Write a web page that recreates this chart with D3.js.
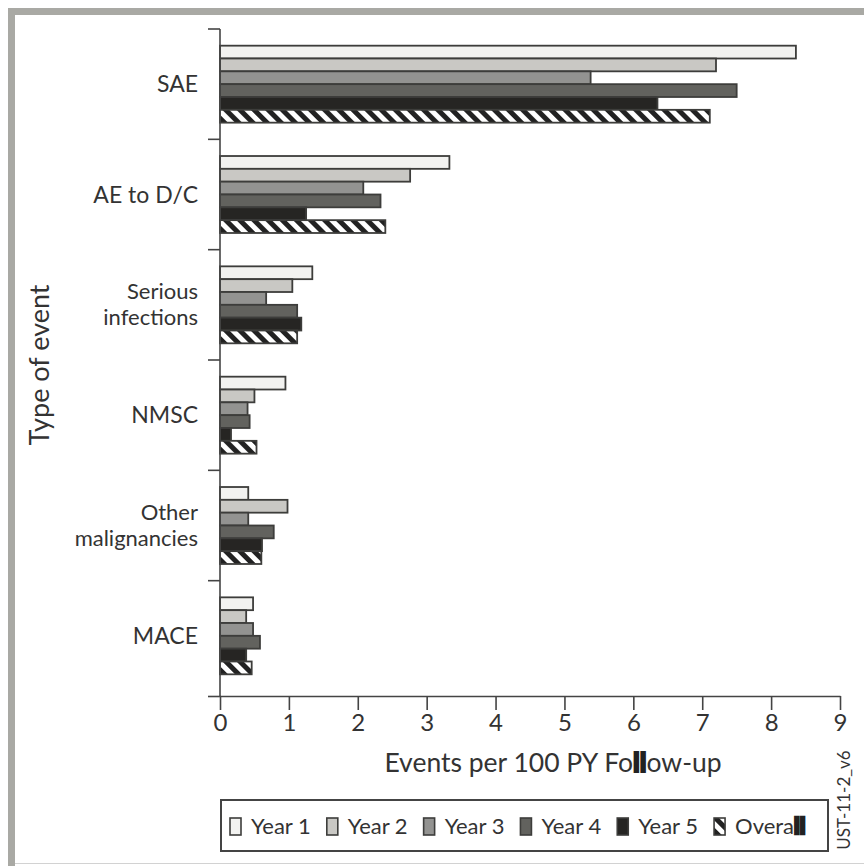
<!DOCTYPE html>
<html>
<head>
<meta charset="utf-8">
<script src="https://cdn.jsdelivr.net/npm/d3@7"></script>
<style>
body { margin: 0; background: #fff; }
text { font-family: Lato, "Open Sans", sans-serif; fill: #333; }
</style>
</head>
<body>
<div id="main"></div>
<script>
// values (events per 100 PY)
var categories = ["SAE", "AE to D/C", "Serious infections", "NMSC", "Other malignancies", "MACE"];
var category_lines = [["SAE"], ["AE to D/C"], ["Serious", "infections"], ["NMSC"], ["Other", "malignancies"], ["MACE"]];
var series_names = ["Year 1", "Year 2", "Year 3", "Year 4", "Year 5", "Overall"];
var year1 = [8.36, 3.33, 1.34, 0.95, 0.41, 0.48];
var year2 = [7.20, 2.76, 1.05, 0.50, 0.98, 0.38];
var year3 = [5.38, 2.08, 0.67, 0.40, 0.41, 0.48];
var year4 = [7.50, 2.33, 1.12, 0.43, 0.78, 0.58];
var year5 = [6.35, 1.25, 1.18, 0.16, 0.61, 0.38];
var overall = [7.11, 2.40, 1.12, 0.53, 0.60, 0.46];
var x_ticks = [0, 1, 2, 3, 4, 5, 6, 7, 8, 9];

var series_values = [year1, year2, year3, year4, year5, overall];
var fills = ["#f2f2f0", "#c9c8c4", "#939391", "#62625e", "#262523", "url(#hatch)"];
var stroke_col = "#3d3d3b";

var W = 864, H = 866;
var svg = d3.select("#main").append("svg").attr("width", W).attr("height", H);

// hatch for "Overall"
var defs = svg.append("defs");
var pat = defs.append("pattern").attr("id", "hatch")
	.attr("patternUnits", "userSpaceOnUse")
	.attr("width", 10).attr("height", 10)
	.attr("patternTransform", "rotate(-45)");
pat.append("rect").attr("width", 10).attr("height", 10).attr("fill", "#fff");
pat.append("rect").attr("width", 5).attr("height", 10).attr("fill", "#222");

// frame
svg.append("rect").attr("x", 8).attr("y", 8).attr("width", W - 8).attr("height", 7).attr("fill", "#a9a9a4");
svg.append("rect").attr("x", 8).attr("y", 8).attr("width", 7).attr("height", H - 8).attr("fill", "#a9a9a4");
svg.append("line").attr("x1", 15).attr("x2", W).attr("y1", 863.5).attr("y2", 863.5)
	.attr("stroke", "#d2d2d2").attr("stroke-width", 1);

var x = d3.scaleLinear().domain([0, 9]).range([220, 840]);
var y0 = d3.scaleBand().domain(categories).range([29, 691]);
var y1 = d3.scaleBand().domain(series_names).range([0, y0.bandwidth()]).paddingOuter(1.3);

// bars
var groups = svg.selectAll(".cat").data(categories).enter().append("g")
	.attr("class", "cat")
	.attr("transform", function (d) { return "translate(0," + y0(d) + ")"; });

groups.selectAll("rect")
	.data(function (d, i) {
		return series_names.map(function (s, j) { return {series: s, value: series_values[j][i], k: j}; });
	})
	.enter().append("rect")
	.attr("x", x(0))
	.attr("y", function (d) { return y1(d.series); })
	.attr("width", function (d) { return x(d.value) - x(0); })
	.attr("height", y1.bandwidth())
	.attr("fill", function (d) { return fills[d.k]; })
	.attr("stroke", stroke_col)
	.attr("stroke-width", 1.8);

// y axis line and boundary ticks
var axis_col = "#444";
svg.append("line").attr("x1", 220).attr("x2", 220).attr("y1", 29).attr("y2", 697)
	.attr("stroke", axis_col).attr("stroke-width", 1.6);
var bounds = categories.map(function (c) { return y0(c); });
svg.selectAll(".ytick").data(bounds).enter().append("line")
	.attr("class", "ytick")
	.attr("x1", 208).attr("x2", 220)
	.attr("y1", function (d) { return d; }).attr("y2", function (d) { return d; })
	.attr("stroke", axis_col).attr("stroke-width", 1.6);

// category labels, one text per line
category_lines.forEach(function (lines, i) {
	var c = y0(categories[i]) + y0.bandwidth() / 2;
	lines.forEach(function (l, k) {
		var base = lines.length == 1 ? c + 8 : c - 6 + k * 26.5;
		svg.append("text").attr("class", "catlabel")
			.attr("x", 198).attr("y", base)
			.attr("text-anchor", "end")
			.style("font-size", lines.length == 1 ? "23px" : "22px")
			.text(l);
	});
});

// x axis
var xaxis = svg.append("g").attr("transform", "translate(0,696)")
	.call(d3.axisBottom(x).tickValues(x_ticks).tickSize(14).tickSizeOuter(0).tickPadding(4));
xaxis.select(".domain").attr("stroke", axis_col).attr("stroke-width", 1.6);
xaxis.selectAll(".tick line").attr("stroke", axis_col).attr("stroke-width", 1.6);
xaxis.selectAll(".tick text").style("font-size", "24px").style("font-family", "Lato, sans-serif").attr("fill", "#333");
svg.append("line").attr("x1", 208).attr("x2", 221).attr("y1", 696.5).attr("y2", 696.5)
	.attr("stroke", axis_col).attr("stroke-width", 1.6);

// axis titles
var xt = svg.append("text").attr("x", 553).attr("y", 772).attr("text-anchor", "middle").style("font-size", "26.5px");
xt.append("tspan").text("Events per 100 PY Fo");
xt.append("tspan").style("font-weight", "900").style("fill", "#222").attr("stroke", "#222").attr("stroke-width", 1.8).text("ll");
xt.append("tspan").text("ow-up");

svg.append("text").attr("transform", "translate(49,365) rotate(-90)")
	.attr("text-anchor", "middle").style("font-size", "27px").text("Type of event");

svg.append("text").attr("transform", "translate(850,800) rotate(-90)")
	.attr("text-anchor", "middle").style("font-size", "17px").attr("fill", "#444").text("UST-11-2_v6");

// legend
svg.append("rect").attr("x", 221).attr("y", 800).attr("width", 607).attr("height", 51)
	.attr("fill", "none").attr("stroke", "#444").attr("stroke-width", 2);
var lx = 230;
series_names.forEach(function (s, i) {
	var g = svg.append("g").attr("transform", "translate(" + lx + ",0)");
	g.append("rect").attr("x", 0).attr("y", 818).attr("width", 11).attr("height", 17)
		.attr("fill", fills[i]).attr("stroke", stroke_col).attr("stroke-width", 1.6);
	var t = g.append("text").attr("x", 21).attr("y", 834).style("font-size", "22px");
	if (s == "Overall") {
		t.append("tspan").text("Overa");
		t.append("tspan").style("font-weight", "900").style("fill", "#222").attr("stroke", "#222").attr("stroke-width", 2.5).text("ll");
	} else {
		t.text(s);
	}
	lx += 21 + t.node().getComputedTextLength() + 16;
});
</script>
</body>
</html>
